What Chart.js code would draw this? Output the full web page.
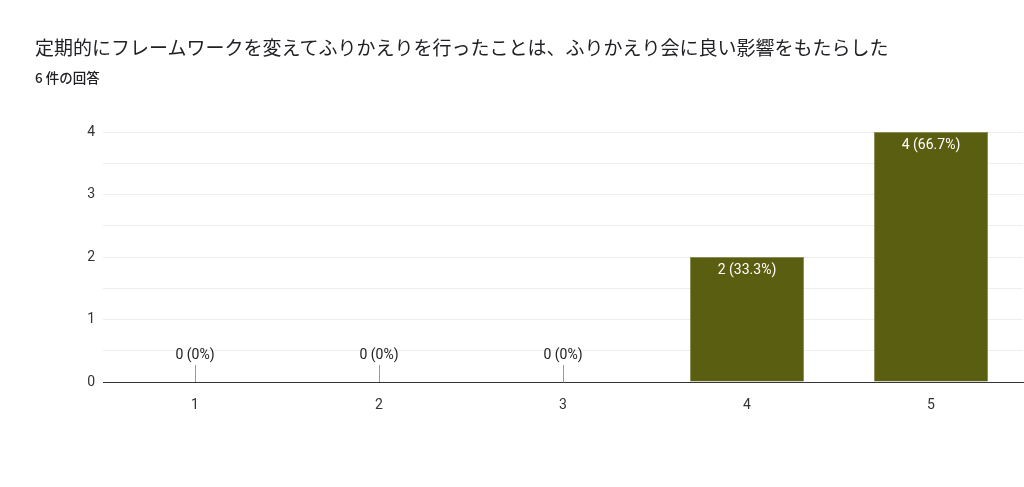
<!DOCTYPE html>
<html><head><meta charset="utf-8">
<script src="https://cdn.jsdelivr.net/npm/chart.js@4/dist/chart.umd.min.js"></script>
<style>
body{margin:0;background:#fff;font-family:"Noto Sans CJK JP",Roboto,sans-serif;}
#wrap{position:absolute;left:0;top:0;width:1024px;height:487px;}
#t{position:absolute;left:35px;top:33px;font-size:19px;color:#202124;white-space:nowrap;}
#s{position:absolute;left:35px;top:67px;font-size:13.5px;color:#202124;font-weight:500;}
</style></head><body>
<div id="wrap"><canvas id="c" width="1024" height="487"></canvas></div>
<div id="t">定期的にフレームワークを変えてふりかえりを行ったことは、ふりかえり会に良い影響をもたらした</div>
<div id="s">6 件の回答</div>
<script>
const categories=['1','2','3','4','5'];
const counts=[0,0,0,2,4];
const labels=['0 (0%)','0 (0%)','0 (0%)','2 (33.3%)','4 (66.7%)'];
const barLabels={id:'bl',afterDatasetsDraw(ch){
 const ctx=ch.ctx,meta=ch.getDatasetMeta(0),y=ch.scales.y;
 ctx.save();ctx.font='14px Roboto, Arial';ctx.textAlign='center';ctx.textBaseline='middle';
 meta.data.forEach((b,i)=>{
  if(counts[i]===0){
   const y0=y.getPixelForValue(0);
   ctx.strokeStyle='#999';ctx.lineWidth=1;ctx.beginPath();ctx.moveTo(Math.round(b.x)+0.5,y0-17);ctx.lineTo(Math.round(b.x)+0.5,y0);ctx.stroke();
   ctx.fillStyle='#202124';ctx.fillText(labels[i],b.x,y0-27);
  }else{ctx.fillStyle='#fff';ctx.fillText(labels[i],b.x,b.y+13);}
 });ctx.restore();}};
new Chart(document.getElementById('c'),{type:'bar',
 data:{labels:categories,datasets:[{data:counts,backgroundColor:'#5a5e11',borderColor:'#8a8d55',borderWidth:{top:1,left:1,right:1,bottom:0},barPercentage:0.62,categoryPercentage:1}]},
 options:{responsive:false,animation:false,
  layout:{padding:{top:132,right:1,left:0,bottom:0}},
  plugins:{legend:{display:false},tooltip:{enabled:false}},
  scales:{
   x:{grid:{display:false,drawTicks:false},border:{color:'#333',width:1},
      ticks:{color:'#333',font:{size:14,family:'Roboto, Arial'},padding:15},
      afterFit(s){s.height=105;}},
   y:{min:0,max:4,grid:{color:'#eeeeee',drawTicks:false},border:{display:false},
      ticks:{stepSize:0.5,padding:8,color:'#333',font:{size:14,family:'Roboto, Arial'},
      callback:v=>Number.isInteger(v)?String(v):''},
      afterFit(s){s.width=103;}}
  }},plugins:[barLabels]});
</script></body></html>
